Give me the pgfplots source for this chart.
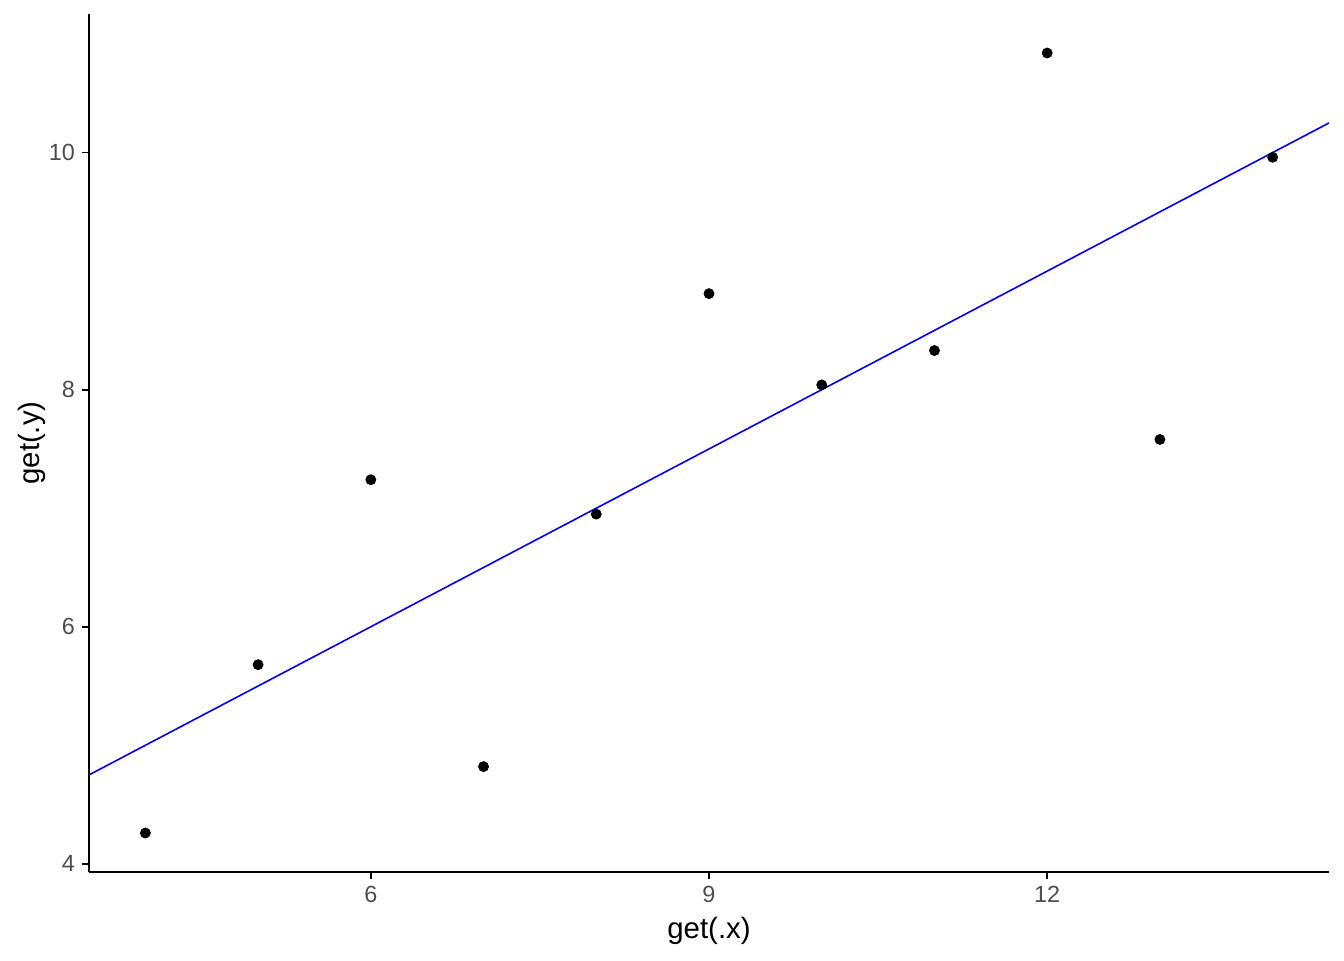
\documentclass[border=0pt]{standalone}
\usepackage{pgfplots}
\pgfplotsset{compat=1.18}
\usepackage{fontspec}
\setmainfont{Liberation Sans}
\definecolor{tickgray}{HTML}{4D4D4D}
\begin{document}
\begin{tikzpicture}
\begin{axis}[
  name=ax,
  scale only axis,
  width=620pt, height=429pt,
  xmin=3.5, xmax=14.5, ymin=3.931, ymax=11.169,
  axis lines*=left,
  axis line style={black, line width=0.9pt, -},
  xtick={6,9,12}, ytick={4,6,8,10},
  tick align=outside,
  major tick length=3.5pt,
  tick style={black, line width=0.9pt},
  ticklabel style={font=\fontsize{11.7}{14}\selectfont, text=tickgray},
  /pgf/number format/assume math mode=true,
  xlabel={get(.x)}, ylabel={get(.y)},
  label style={font=\fontsize{14.7}{17}\selectfont},
  xlabel style={at={(axis description cs:0.5,-0.0688)}, anchor=center},
  ylabel style={at={(axis description cs:-0.046,0.5)}, anchor=center},
  clip=true,
]
\addplot[only marks, mark=*, mark size=2.5pt, black] coordinates {
(10,8.04) (8,6.95) (13,7.58) (9,8.81) (11,8.33) (14,9.96) (6,7.24) (4,4.26) (12,10.84) (7,4.82) (5,5.68)
};
\addplot[blue, line width=0.8pt] coordinates {(3.5,4.75) (14.5,10.25)};
\end{axis}
\path (ax.south west) ++(-44.5pt,-44pt) rectangle ([shift={(7.5pt,7pt)}]ax.north east);
\end{tikzpicture}
\end{document}
